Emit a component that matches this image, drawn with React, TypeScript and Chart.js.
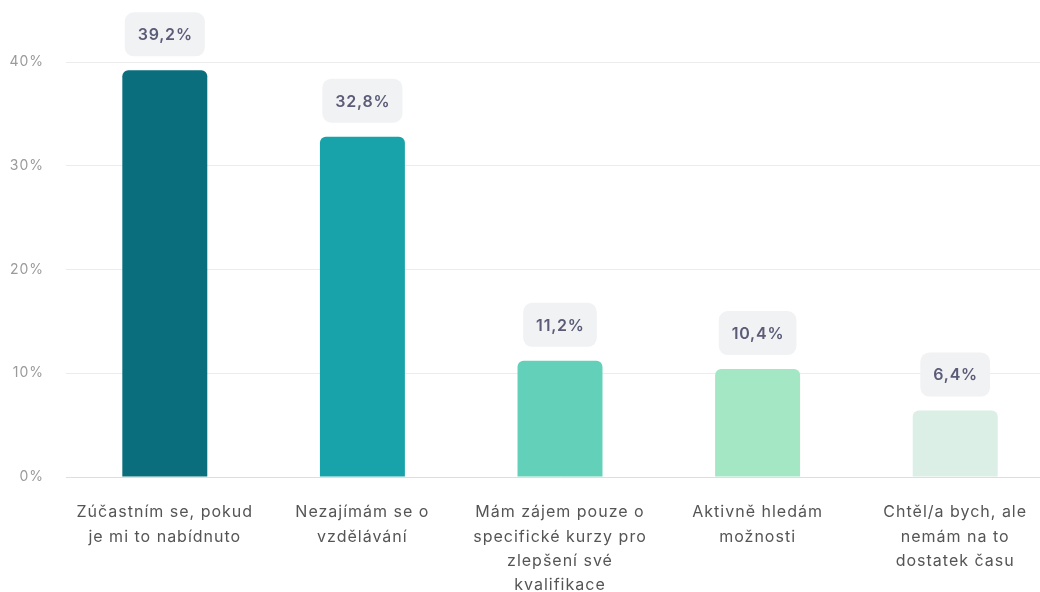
import React, { useEffect, useRef } from "react";
import { Chart, registerables } from "chart.js";

Chart.register(...registerables);

const categories: string[][] = [
  ["Zúčastním se, pokud", "je mi to nabídnuto"],
  ["Nezajímám se o", "vzdělávání"],
  ["Mám zájem pouze o", "specifické kurzy pro", "zlepšení své", "kvalifikace"],
  ["Aktivně hledám", "možnosti"],
  ["Chtěl/a bych, ale", "nemám na to", "dostatek času"],
];
const values: number[] = [39.2, 32.8, 11.2, 10.4, 6.4];
const valueLabels: string[] = ["39,2%", "32,8%", "11,2%", "10,4%", "6,4%"];
const barColors: string[] = ["#0a6e7c", "#17a3a9", "#63d1b9", "#a3e7c5", "#dbefe6"];
const yTicks: number[] = [0, 10, 20, 30, 40];

const FONT = "Inter, 'Noto Sans', sans-serif";

const spacingPlugin = {
  id: "spacing",
  beforeInit(chart: any) {
    chart.ctx.letterSpacing = "1px";
  },
  beforeUpdate(chart: any) {
    chart.ctx.letterSpacing = "1px";
  },
  beforeDraw(chart: any) {
    chart.ctx.letterSpacing = "1px";
  },
};

const labelPlugin = {
  id: "boxLabels",
  afterDatasetsDraw(chart: any) {
    const ctx = chart.ctx;
    const meta = chart.getDatasetMeta(0);
    ctx.save();
    ctx.letterSpacing = "0.8px";
    ctx.font = `600 16px ${FONT}`;
    meta.data.forEach((bar: any, i: number) => {
      const text = valueLabels[i];
      const tw = ctx.measureText(text).width;
      const w = tw + 25;
      const h = 44;
      const x = bar.x - w / 2;
      const y = bar.y - 14 - h;
      ctx.fillStyle = "#f1f2f3";
      ctx.beginPath();
      ctx.roundRect(x, y, w, h, 9);
      ctx.fill();
      ctx.fillStyle = "#5b5b78";
      ctx.textAlign = "center";
      ctx.textBaseline = "middle";
      ctx.fillText(text, bar.x + 0.4, y + h / 2 + 1);
    });
    ctx.restore();
  },
};

export default function App() {
  const ref = useRef<HTMLCanvasElement>(null);
  useEffect(() => {
    if (!ref.current) return;
    const chart = new Chart(ref.current, {
      type: "bar",
      data: {
        labels: categories,
        datasets: [
          {
            data: values,
            backgroundColor: barColors,
            borderRadius: 6,
            borderSkipped: "start",
            barPercentage: 0.86,
            categoryPercentage: 0.5,
          },
        ],
      },
      options: {
        animation: false,
        responsive: false,
        layout: { padding: { top: 62, right: 0, left: 0, bottom: 0 } },
        plugins: { legend: { display: false }, tooltip: { enabled: false } },
        scales: {
          x: {
            grid: { display: false, drawTicks: false },
            border: { color: "#d8def0", width: 1 },
            ticks: {
              color: "#555555",
              font: { family: FONT, size: 16, lineHeight: 1.53 },
              padding: 23,
              maxRotation: 0,
              autoSkip: false,
            },
            afterFit: (s: any) => {
              s.height = 115;
            },
          },
          y: {
            min: 0,
            max: 40,
            afterBuildTicks: (s: any) => {
              s.ticks = yTicks.map((v) => ({ value: v }));
            },
            grid: { color: "#ececec", drawTicks: false },
            border: { display: false },
            ticks: {
              color: "#9a9a9a",
              font: { family: FONT, size: 14 },
              padding: 22,
              callback: (v: any) => `${v}%`,
            },
            afterFit: (s: any) => {
              s.width = 66;
            },
          },
        },
      },
      plugins: [spacingPlugin, labelPlugin],
    });
    return () => chart.destroy();
  }, []);
  return (
    <div
      style={{
        position: "fixed",
        left: 0,
        top: 0,
        width: 1040,
        height: 592,
        overflow: "hidden",
        background: "#ffffff",
      }}
    >
      <canvas ref={ref} width={1054} height={592} style={{ display: "block" }} />
    </div>
  );
}
